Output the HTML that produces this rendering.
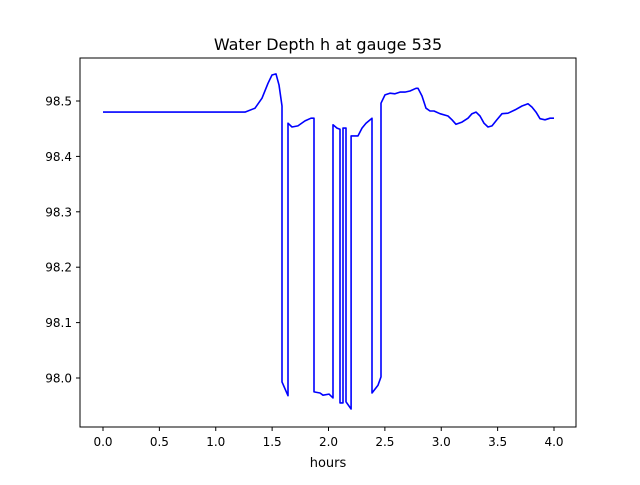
<!DOCTYPE html>
<html><head><meta charset="utf-8"><style>
body{margin:0;background:#fff;}
text{font-family:"DejaVu Sans","Liberation Sans",sans-serif;}
</style></head><body>
<svg id="chart" width="640" height="480" xmlns="http://www.w3.org/2000/svg">
<rect width="640" height="480" fill="#fff"/>
<text x="328" y="50" font-size="16" text-anchor="middle">Water Depth h at gauge 535</text>
<text x="328" y="467" font-size="13" text-anchor="middle">hours</text>
<g id="ticks"></g>
<path id="series" fill="none" stroke="#0000ff" stroke-width="1.6" stroke-linejoin="round"/>
<rect x="80" y="58" width="496" height="369" fill="none" stroke="#000" stroke-width="1"/>
</svg>
<script>
const hours=[0,1.259,1.348,1.410,1.463,1.499,1.534,1.561,1.588,1.588,1.641,1.641,1.676,1.729,1.792,1.845,1.871,1.871,1.925,1.951,2.004,2.040,2.040,2.075,2.102,2.102,2.129,2.129,2.155,2.155,2.200,2.200,2.235,2.262,2.297,2.333,2.386,2.386,2.439,2.466,2.466,2.501,2.545,2.590,2.634,2.678,2.723,2.776,2.794,2.829,2.865,2.900,2.936,2.989,3.060,3.095,3.131,3.184,3.237,3.273,3.308,3.344,3.379,3.415,3.450,3.494,3.539,3.592,3.654,3.716,3.769,3.805,3.840,3.876,3.920,3.965,4.0];
const depth=[98.480,98.480,98.487,98.505,98.532,98.547,98.549,98.529,98.491,97.993,97.968,98.460,98.453,98.455,98.464,98.469,98.469,97.975,97.973,97.969,97.971,97.964,98.457,98.451,98.449,97.955,97.955,98.451,98.451,97.957,97.944,98.437,98.437,98.437,98.451,98.460,98.469,97.973,97.987,98.002,98.496,98.511,98.514,98.513,98.516,98.516,98.518,98.523,98.523,98.509,98.487,98.482,98.482,98.477,98.473,98.466,98.458,98.462,98.469,98.477,98.480,98.473,98.460,98.453,98.455,98.466,98.477,98.478,98.484,98.491,98.495,98.489,98.480,98.468,98.466,98.469,98.469];
const xTicks=[0,0.5,1,1.5,2,2.5,3,3.5,4];
const xTickLabels=["0.0","0.5","1.0","1.5","2.0","2.5","3.0","3.5","4.0"];
const yTicks=[98.0,98.1,98.2,98.3,98.4,98.5];
const yTickLabels=["98.0","98.1","98.2","98.3","98.4","98.5"];
const X=t=>103+t*112.75;
const Y=v=>378-(v-98.0)*554;
const ns="http://www.w3.org/2000/svg";
const g=document.getElementById('ticks');
xTicks.forEach((t,i)=>{
 const l=document.createElementNS(ns,'line');
 
 
 l.setAttribute('x1',X(t));l.setAttribute('x2',X(t));l.setAttribute('y1',427);l.setAttribute('y2',431);l.setAttribute('stroke','#000');
 g.appendChild(l);
 const tx=document.createElementNS(ns,'text');
 
 
 tx.setAttribute('x',X(t));tx.setAttribute('y',446);tx.setAttribute('font-size','12');tx.setAttribute('text-anchor','middle');
 tx.textContent=xTickLabels[i];g.appendChild(tx);
});
yTicks.forEach((v,i)=>{
 const l=document.createElementNS(ns,'line');
 
 
 l.setAttribute('x1',76);l.setAttribute('x2',80);l.setAttribute('y1',Y(v));l.setAttribute('y2',Y(v));l.setAttribute('stroke','#000');
 g.appendChild(l);
 const tx=document.createElementNS(ns,'text');
 
 
 tx.setAttribute('x',72);tx.setAttribute('y',Y(v)+4.5);tx.setAttribute('font-size','12');tx.setAttribute('text-anchor','end');
 tx.textContent=yTickLabels[i];g.appendChild(tx);
});
document.getElementById('series').setAttribute('d',hours.map((t,i)=>(i?'L':'M')+X(t).toFixed(1)+','+Y(depth[i]).toFixed(1)).join(' '));
</script>
</body></html>
